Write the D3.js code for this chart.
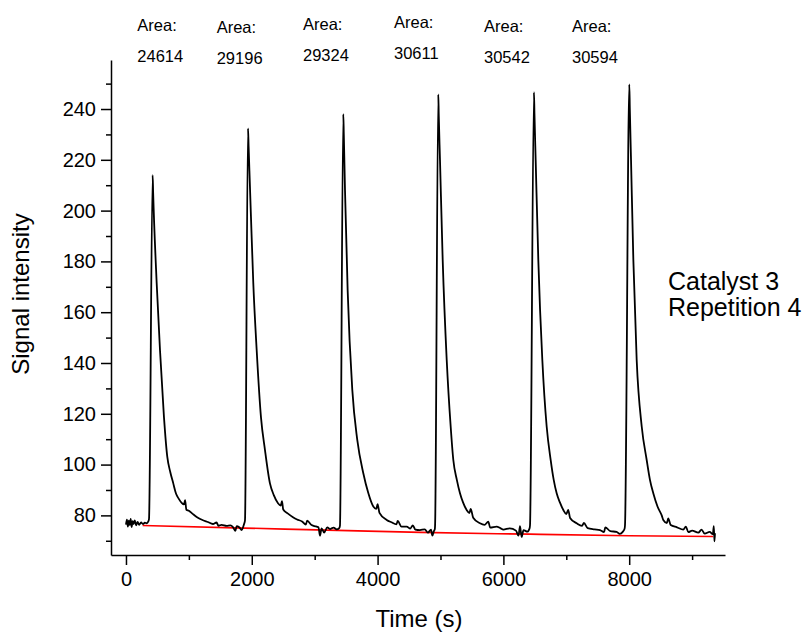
<!DOCTYPE html>
<html>
<head>
<meta charset="utf-8">
<script src="https://cdn.jsdelivr.net/npm/d3@7"></script>
<style>
  body { margin: 0; background: #fff; }
  text { font-family: "Liberation Sans", Arial, Helvetica, sans-serif; fill: #000; }
</style>
</head>
<body>
<div id="chart"></div>
<script>
// data: [time (s), signal]
var cycle1 = [[0,76.4],[15,78.3],[30,75.6],[45,77.9],[60,76.2],[75,78.6],[90,75.4],[105,77.7],[120,76.6],[140,78.0],[160,76.1],[185,77.4],[210,76.3],[240,77.2],[270,76.6],[300,77.1],[330,76.9],[355,77.6],[366,78.5],[424,214],[432,207],[488,171.5],[541,145],[604,118.7],[657,103],[705,97],[752,92.6],[795,88.6],[840,86.5],[886,84.9],[920,84.3],[940,86.0],[960,82.2],[1000,81.8],[1060,80.6],[1124,79.4],[1180,78.6],[1224,78.1],[1300,77.4],[1383,76.6],[1440,77.2],[1470,75.9],[1520,76.3],[1600,75.9],[1660,76.1],[1701,75.4],[1740,73.9],[1760,75.8],[1800,75.3],[1840,74.2],[1865,75.6],[1880,76.8]];
var cycle2 = [[1892,78],[1940,232.4],[1950,225],[1987,197.6],[2024,171.5],[2078,145],[2146,118.7],[2210,105.7],[2289,92.6],[2350,88],[2417,84.8],[2460,83.9],[2480,85.6],[2500,82.3],[2570,80.8],[2655,79.3],[2720,78.4],[2800,77.6],[2860,76.4],[2880,77.9],[2950,76.2],[3000,75.8],[3060,75.3],[3084,72.0],[3110,74.9],[3150,73.2],[3200,75.3],[3243,74.6],[3300,75.2],[3350,74.5],[3390,75.0]];
var cycle3 = [[3402,76],[3455,238],[3463,230],[3482,208],[3524,168.7],[3598,129.4],[3677,109.7],[3773,96.6],[3850,89],[3932,83.5],[3980,82.6],[4000,84.4],[4030,81.0],[4145,78.2],[4220,77.3],[4300,76.5],[4320,77.8],[4380,75.6],[4463,75.6],[4520,74.8],[4560,76.1],[4600,74.4],[4674,74.2],[4750,74.5],[4800,73.2],[4850,74.4],[4870,72.0],[4895,73.8],[4910,74.6]];
var cycle4 = [[4914,76],[4965,245.8],[4972,238],[4992,220],[5035,180.6],[5099,141.2],[5162,115],[5204,101.8],[5260,94],[5310,88.7],[5360,85],[5416,82.1],[5460,80.9],[5480,82.6],[5520,79.1],[5628,76.9],[5700,76.3],[5760,77.5],[5790,75.2],[5893,75.6],[5950,75.0],[6000,74.4],[6100,74.9],[6200,74.0],[6240,72.0],[6264,75.8],[6290,71.5],[6320,74.2],[6380,73.6],[6415,74.8]];
var cycle5 = [[6423,76],[6486,246.6],[6494,238],[6513,220],[6555,180.6],[6619,141.2],[6688,115],[6752,101.8],[6800,94],[6847,88.7],[6900,85],[6953,82.1],[7000,80.5],[7030,82.2],[7060,79.0],[7165,76.9],[7250,75.9],[7280,77.0],[7340,75.0],[7450,74.5],[7536,74.2],[7600,73.4],[7620,75.3],[7700,73.8],[7800,73.5],[7850,72.7],[7900,73.6],[7925,74.6]];
var cycle6 = [[7933,76],[8002,249.7],[8010,240],[8029,220],[8066,180.6],[8119,141.2],[8199,115],[8278,101.8],[8330,94],[8383,88.7],[8450,83.5],[8517,80],[8542,78.2],[8600,77.0],[8620,78.8],[8660,76.2],[8760,75.3],[8860,74.4],[8900,75.6],[8940,73.4],[9000,74.0],[9100,73.2],[9150,74.4],[9200,72.8],[9280,73.5],[9330,72.6],[9345,75.8],[9355,69.8],[9364,73.0]];

// fitted baseline (red)
var baseline = [[265,76.0],[1881,75.0],[3365,74.1],[4690,73.3],[6423,72.6],[8000,72.0],[9332,71.7]];

// peak area labels
var areas = ["24614", "29196", "29324", "30611", "30542", "30594"];
var areaX = [180, 1442, 2814, 4261, 5692, 7091];   // label left edge, in seconds
var areaDy = [0, 1.5, -1.5, -3, 1, 1];              // small vertical offsets in the figure

var xTicks = [0, 2000, 4000, 6000, 8000];
var xMinor = [1000, 3000, 5000, 7000, 9000];
var yTicks = [80, 100, 120, 140, 160, 180, 200, 220, 240];
var yMinor = [70, 90, 110, 130, 150, 170, 190, 210, 230, 250];

var svg = d3.select("#chart").append("svg")
    .attr("width", 808)
    .attr("height", 632);

var x = d3.scaleLinear().domain([-238, 9523]).range([111, 725]);
var y = d3.scaleLinear().domain([64.4, 259.3]).range([555, 60]);

// axes
svg.append("g")
    .attr("transform", "translate(0,555)")
    .call(d3.axisBottom(x).tickValues(xTicks).tickFormat(d3.format("d"))
        .tickSize(10).tickSizeOuter(0).tickPadding(7));
svg.append("g")
    .attr("transform", "translate(0,555)")
    .call(d3.axisBottom(x).tickValues(xMinor).tickSize(5).tickFormat(""))
    .select(".domain").remove();

svg.append("g")
    .attr("transform", "translate(111,0)")
    .call(d3.axisLeft(y).tickValues(yTicks).tickFormat(d3.format("d"))
        .tickSize(10).tickSizeOuter(0).tickPadding(5));
svg.append("g")
    .attr("transform", "translate(111,0)")
    .call(d3.axisLeft(y).tickValues(yMinor).tickSize(5).tickFormat(""))
    .select(".domain").remove();

svg.selectAll(".domain, .tick line").attr("stroke", "#000").attr("stroke-width", 1.5);
svg.selectAll(".tick text")
    .attr("font-family", "Liberation Sans, Arial, sans-serif")
    .attr("font-size", 20)
    .attr("fill", "#000");

// axis titles
svg.append("text")
    .attr("x", 419).attr("y", 627)
    .attr("text-anchor", "middle")
    .attr("font-size", 24)
    .text("Time (s)");

svg.append("text")
    .attr("transform", "translate(29,294) rotate(-90)")
    .attr("text-anchor", "middle")
    .attr("font-size", 24)
    .text("Signal intensity");

// signal and baseline
var line = d3.line()
    .x(d => x(d[0]))
    .y(d => y(d[1]))
    .curve(d3.curveMonotoneX);

var signal = cycle1.concat(cycle2, cycle3, cycle4, cycle5, cycle6);

svg.append("path")
    .datum(baseline)
    .attr("fill", "none")
    .attr("stroke", "#ff0000")
    .attr("stroke-width", 1.6)
    .attr("d", line);

svg.append("path")
    .datum(signal)
    .attr("fill", "none")
    .attr("stroke", "#000")
    .attr("stroke-width", 1.8)
    .attr("stroke-linejoin", "round")
    .attr("d", line);

// area annotations
areas.forEach(function(a, i){
    svg.append("text")
        .attr("x", x(areaX[i])).attr("y", 31 + areaDy[i])
        .attr("font-size", 16.5)
        .text("Area:");
    svg.append("text")
        .attr("x", x(areaX[i])).attr("y", 62 + areaDy[i])
        .attr("font-size", 16.5)
        .text(a);
});

// sample label
svg.append("text")
    .attr("x", 668).attr("y", 290)
    .attr("font-size", 25)
    .text("Catalyst 3");
svg.append("text")
    .attr("x", 668).attr("y", 316)
    .attr("font-size", 25)
    .text("Repetition 4");
</script>
</body>
</html>
